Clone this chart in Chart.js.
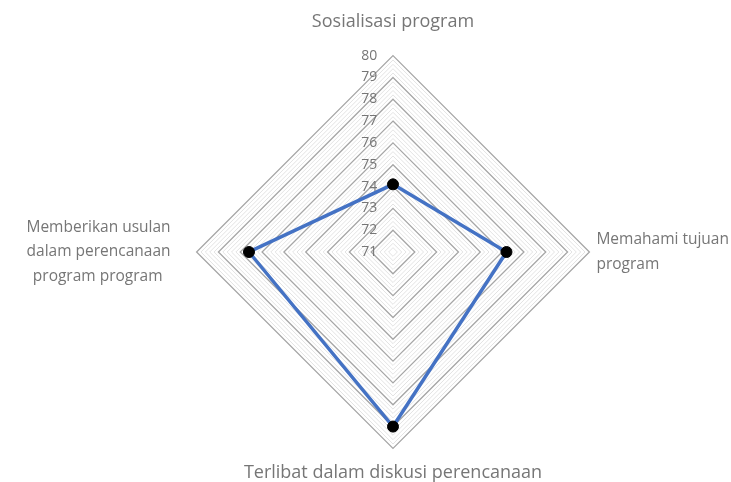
<!DOCTYPE html>
<html lang="en">
<head>
  <meta charset="UTF-8" />
  <title>Radar chart</title>
  <script src="https://cdn.jsdelivr.net/npm/chart.js@4.4.0/dist/chart.umd.min.js"></script>
  <style>
    html, body { margin: 0; padding: 0; background: #fff; }
    /* visible frame; the chart canvas is a bit larger and shifted so the
       radar sits where it does in the original */
    #frame { position: relative; width: 731px; height: 482px; overflow: hidden; }
    #wrap { position: absolute; left: -4px; top: 7px; width: 780px; height: 482px; }
  </style>
</head>
<body>
<div id="frame"><div id="wrap"><canvas id="chart"></canvas></div></div>
<script>
  // ── data ────────────────────────────────────────────
  const categories = [
    'Sosialisasi program',
    ['Memahami tujuan', 'program'],
    'Terlibat dalam diskusi perencanaan',
    ['Memberikan usulan', 'dalam perencanaan', 'program program  ']
  ];
  const scores = [74.1, 76.2, 79.0, 77.6];
  const tickMin = 71, tickMax = 80;

  // rings every 0.2 (whole numbers = major ring with a label)
  const tickValues = [];
  for (let t = tickMin * 10; t <= tickMax * 10; t += 2) tickValues.push(t / 10);

  const grey = '#767676';
  const isMajor = v => Number.isInteger(Math.round(v * 1000) / 1000);

  // per-label gap and size (top, right, bottom, left)
  const labelPad  = [16, 0, 7, 19];
  const labelSize = [18, 15.5, 18, 15.5];

  const chart = new Chart(document.getElementById('chart'), {
    type: 'radar',
    data: {
      labels: categories,
      datasets: [{
        label: 'Skor',
        data: scores,
        borderColor: '#4472C4',
        borderWidth: 3.5,
        backgroundColor: 'transparent',
        fill: false,
        pointRadius: 5.5,
        pointHoverRadius: 5.5,
        pointBackgroundColor: '#000',
        pointBorderColor: '#000',
        pointBorderWidth: 1,
        tension: 0
      }]
    },
    options: {
      responsive: true,
      maintainAspectRatio: false,
      animation: false,
      layout: { padding: 0 },
      plugins: { legend: { display: false }, tooltip: { enabled: false } },
      scales: {
        r: {
          min: tickMin,
          max: tickMax,
          angleLines: { display: false },
          grid: {
            color: ctx => isMajor(ctx.tick.value) ? '#a6a6a6' : '#e3e3e3',
            lineWidth: ctx => isMajor(ctx.tick.value) ? 1.3 : 1
          },
          afterBuildTicks: scale => {
            // first entry is a dummy so the "71" label at the centre is drawn too
            scale.ticks = [{ value: tickMin }].concat(tickValues.map(v => ({ value: v })));
          },
          ticks: {
            autoSkip: false,
            showLabelBackdrop: false,
            backdropPadding: 0,
            color: grey,
            font: { family: 'Open Sans', size: 14 },
            callback: v => isMajor(v) ? String(Math.round(v)) + '             ' : ''
          },
          pointLabels: {
            color: grey,
            padding: ctx => labelPad[ctx.index],
            font: ctx => ({
              family: 'Open Sans',
              size: labelSize[ctx.index],
              lineHeight: labelSize[ctx.index] < 17 ? 1.6 : 1.2
            })
          }
        }
      }
    }
  });
</script>
</body>
</html>
